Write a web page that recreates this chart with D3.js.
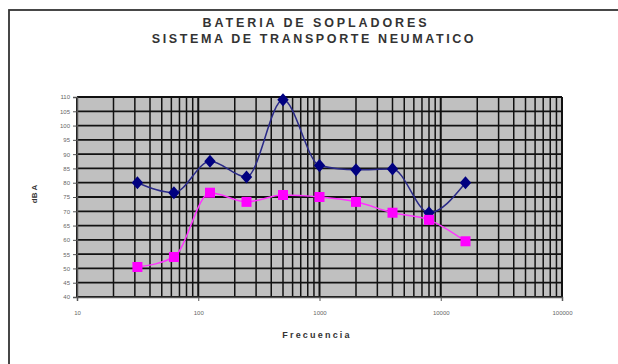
<!DOCTYPE html>
<html>
<head>
<meta charset="utf-8">
<script src="https://cdn.jsdelivr.net/npm/d3@7"></script>
<style>
  body { margin: 0; background: #fff; }
  text { font-family: "Liberation Sans", Arial, sans-serif; }
</style>
</head>
<body>
<div id="chart"></div>
<script>
// octave band centre frequencies (Hz)
const frequencies = [31.5, 63, 125, 250, 500, 1000, 2000, 4000, 8000, 16000];
// blue series (diamonds)
const serieA = [80, 76.5, 87.5, 82, 109, 86, 84.5, 84.8, 69.5, 80];
// pink series (squares)
const serieB = [50.5, 54, 76.5, 73.3, 75.7, 75, 73.3, 69.5, 67, 59.5];
const xTicks = [10, 100, 1000, 10000, 100000];
const yTicks = d3.range(40, 111, 5);

const width = 618, height = 364;
const margin = {top: 97, right: 56, bottom: 67, left: 77};
const w = width - margin.left - margin.right,
      h = height - margin.top - margin.bottom;

const svg = d3.select("#chart").append("svg")
    .attr("width", width)
    .attr("height", height);

svg.append("rect")
    .attr("x", 0).attr("y", 0)
    .attr("width", width).attr("height", height)
    .attr("fill", "#fff");

// outer chart frame (runs off right/bottom edge like the source)
svg.append("rect")
    .attr("x", 9).attr("y", 10)
    .attr("width", 640).attr("height", 400)
    .attr("fill", "none")
    .attr("stroke", "#333")
    .attr("stroke-width", 1.8);

// titles
svg.append("text")
    .attr("x", 316).attr("y", 27)
    .attr("text-anchor", "middle")
    .attr("font-size", 12.5)
    .attr("font-weight", "bold")
    .attr("letter-spacing", 2.9)
    .attr("fill", "#333")
    .text("BATERIA DE SOPLADORES");

svg.append("text")
    .attr("x", 314).attr("y", 43)
    .attr("text-anchor", "middle")
    .attr("font-size", 12.5)
    .attr("font-weight", "bold")
    .attr("letter-spacing", 2.6)
    .attr("fill", "#333")
    .text("SISTEMA DE TRANSPORTE NEUMATICO");

const g = svg.append("g")
    .attr("transform", `translate(${margin.left},${margin.top})`);

const x = d3.scaleLog().domain([10, 100000]).range([0, w]);
const y = d3.scaleLinear().domain([40, 110]).range([h, 0]);

g.append("rect")
    .attr("width", w).attr("height", h)
    .attr("fill", "#c0c0c0");

// vertical log gridlines 10..100000
const minorX = [];
[10, 100, 1000, 10000].forEach(dec => {
    for (let k = 1; k <= 9; k++) minorX.push(dec * k);
});
minorX.push(100000);

g.append("g")
    .selectAll("line")
    .data(minorX)
    .join("line")
    .attr("x1", d => x(d)).attr("x2", d => x(d))
    .attr("y1", 0).attr("y2", h)
    .attr("stroke", "#111")
    .attr("stroke-width", d => xTicks.includes(d) ? 2 : 1.5);

// horizontal gridlines
g.append("g")
    .selectAll("line")
    .data(yTicks)
    .join("line")
    .attr("x1", 0).attr("x2", w)
    .attr("y1", d => y(d)).attr("y2", d => y(d))
    .attr("stroke", "#111")
    .attr("stroke-width", 1.8);

// axes
const yAxis = g.append("g")
    .call(d3.axisLeft(y).tickValues(yTicks).tickSize(4).tickPadding(3));
const xAxis = g.append("g")
    .attr("transform", `translate(0,${h})`)
    .call(d3.axisBottom(x).tickValues(xTicks).tickFormat(d3.format("d")).tickSize(4).tickPadding(10));

[yAxis, xAxis].forEach(a => {
    a.select(".domain").attr("stroke", "#555").attr("stroke-width", 1.5);
    a.selectAll(".tick line").attr("stroke", "#555");
    a.selectAll(".tick text")
        .attr("font-family", "Liberation Sans, Arial, sans-serif")
        .attr("font-size", 6)
        .attr("fill", "#666");
});

// axis titles
svg.append("text")
    .attr("transform", "translate(37,194) rotate(-90)")
    .attr("text-anchor", "middle")
    .attr("font-size", 8)
    .attr("font-weight", "bold")
    .attr("fill", "#333")
    .text("dB A");

svg.append("text")
    .attr("x", 317).attr("y", 338)
    .attr("text-anchor", "middle")
    .attr("font-size", 9)
    .attr("font-weight", "bold")
    .attr("letter-spacing", 2.2)
    .attr("fill", "#333")
    .text("Frecuencia");

// series
const line = d3.line()
    .x(d => x(d[0]))
    .y(d => y(d[1]))
    .curve(d3.curveMonotoneX);

const dataA = frequencies.map((f, i) => [f, serieA[i]]);
const dataB = frequencies.map((f, i) => [f, serieB[i]]);

g.append("path")
    .datum(dataA)
    .attr("d", line)
    .attr("fill", "none")
    .attr("stroke", "#2a2a88")
    .attr("stroke-width", 1.5);

g.append("path")
    .datum(dataB)
    .attr("d", line)
    .attr("fill", "none")
    .attr("stroke", "#ff33ff")
    .attr("stroke-width", 1.5);

g.append("g")
    .selectAll("path")
    .data(dataA)
    .join("path")
    .attr("d", d3.symbol(d3.symbolDiamond, 50))
    .attr("transform", d => `translate(${x(d[0])},${y(d[1])}) scale(1.5,1)`)
    .attr("fill", "#000080");

g.append("g")
    .selectAll("rect")
    .data(dataB)
    .join("rect")
    .attr("x", d => x(d[0]) - 5)
    .attr("y", d => y(d[1]) - 5)
    .attr("width", 10).attr("height", 10)
    .attr("fill", "#ff00ff");
</script>
</body>
</html>
